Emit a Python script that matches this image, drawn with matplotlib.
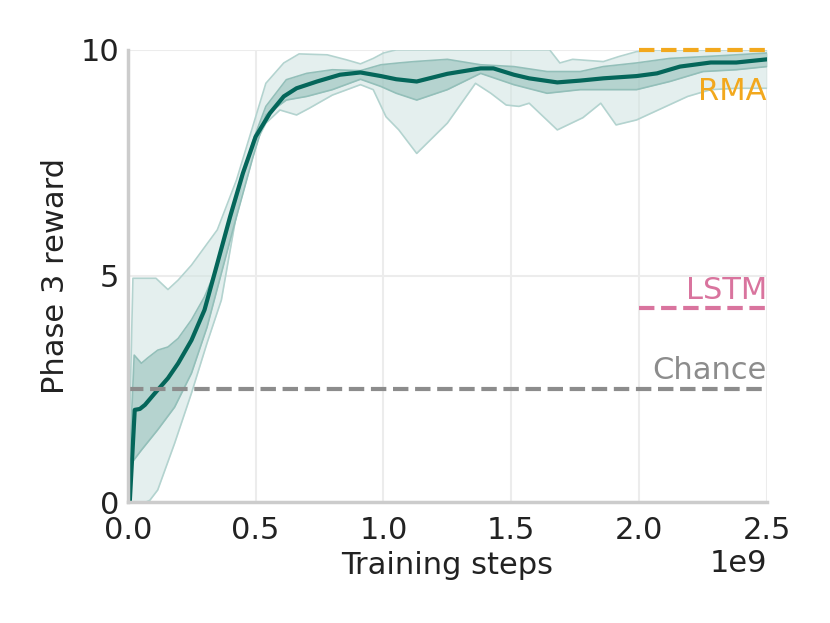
import numpy as np
from matplotlib import pyplot as plt

# Mean curve (x in units of 1e9 steps)
mean_x = [0.0, 0.008, 0.027, 0.047, 0.067, 0.106, 0.157, 0.197, 0.249, 0.30, 0.34,
          0.40, 0.45, 0.50, 0.556, 0.61, 0.66, 0.74, 0.83, 0.91, 0.99, 1.05, 1.13,
          1.25, 1.38, 1.43, 1.51, 1.57, 1.68, 1.77, 1.86, 1.99, 2.07, 2.16, 2.28,
          2.38, 2.5]
mean_y = [0.0, 0.04, 2.04, 2.06, 2.15, 2.41, 2.74, 3.07, 3.58, 4.25, 5.07,
          6.31, 7.27, 8.08, 8.6, 8.97, 9.15, 9.30, 9.45, 9.5, 9.42, 9.35, 9.30,
          9.47, 9.59, 9.59, 9.45, 9.37, 9.28, 9.32, 9.37, 9.42, 9.48, 9.63, 9.72,
          9.72, 9.79]

# Inner band
inner_up_x = [0.0, 0.025, 0.053, 0.078, 0.117, 0.157, 0.197, 0.249, 0.30, 0.35,
              0.49, 0.54, 0.62, 0.70, 0.80, 0.91, 0.99, 1.06, 1.12, 1.25, 1.38,
              1.51, 1.64, 1.77, 1.86, 1.99, 2.12, 2.32, 2.5]
inner_up_y = [0.0, 3.25, 3.07, 3.19, 3.36, 3.43, 3.62, 4.03, 4.54, 5.21,
              8.0, 8.75, 9.34, 9.48, 9.56, 9.54, 9.67, 9.71, 9.74, 9.79, 9.67,
              9.63, 9.52, 9.52, 9.63, 9.71, 9.81, 9.87, 9.93]
inner_lo_x = [0.0, 0.014, 0.053, 0.117, 0.183, 0.249, 0.31, 0.41, 0.49, 0.54, 0.62,
              0.70, 0.80, 0.91, 0.99, 1.05, 1.13, 1.25, 1.38, 1.51, 1.64, 1.77,
              1.86, 1.99, 2.12, 2.25, 2.38, 2.5]
inner_lo_y = [0.0, 0.86, 1.15, 1.6, 2.1, 2.85, 3.87, 6.0, 7.64, 8.56, 8.89,
              8.97, 9.12, 9.35, 9.19, 9.04, 8.89, 9.12, 9.48, 9.23, 9.04, 9.12,
              9.12, 9.12, 9.30, 9.52, 9.56, 9.63]

# Outer band
outer_up_x = [0.0, 0.02, 0.11, 0.157, 0.197, 0.249, 0.35, 0.425, 0.54, 0.61, 0.67,
              0.78, 0.855, 0.91, 0.96, 1.0, 1.05, 1.65, 1.69, 1.74, 1.86, 1.92,
              1.99, 2.05, 2.5]
outer_up_y = [0.0, 4.95, 4.95, 4.7, 4.91, 5.24, 6.02, 7.12, 9.26, 9.71, 9.91,
              9.89, 9.78, 9.69, 9.81, 9.93, 10.0, 10.0, 9.71, 9.79, 9.74, 9.85,
              9.96, 10.0, 10.0]
outer_lo_x = [0.0, 0.07, 0.086, 0.117, 0.183, 0.249, 0.31, 0.366, 0.46, 0.54, 0.595,
              0.66, 0.71, 0.80, 0.91, 0.96, 1.01, 1.06, 1.13, 1.25, 1.36, 1.42,
              1.48, 1.53, 1.57, 1.68, 1.78, 1.85, 1.91, 1.99, 2.09, 2.19, 2.28,
              2.38, 2.5]
outer_lo_y = [0.0, 0.0, 0.04, 0.27, 1.3, 2.41, 3.52, 4.47, 7.49, 8.38, 8.67,
              8.56, 8.71, 9.0, 9.23, 9.12, 8.52, 8.23, 7.71, 8.38, 9.26, 9.04,
              8.78, 8.75, 8.82, 8.23, 8.5, 8.82, 8.34, 8.45, 8.71, 8.97, 9.12,
              9.15, 9.15]

# Baselines
rma_y = 10.0
lstm_y = 4.29
chance_y = 2.5


if __name__ == '__main__':

    scale = 1e9
    teal = '#04665a'
    font = 22

    fig = plt.figure(figsize=(8.3, 6.23), dpi=100)
    ax = fig.add_axes([0.154, 0.194, 0.770, 0.726])

    # Common grid so the bands can be filled
    grid = np.linspace(0, 2.5, 2001)
    o_up = np.interp(grid, outer_up_x, outer_up_y)
    o_lo = np.interp(grid, outer_lo_x, outer_lo_y)
    i_up = np.interp(grid, inner_up_x, inner_up_y)
    i_lo = np.interp(grid, inner_lo_x, inner_lo_y)

    ax.fill_between(grid * scale, o_lo, o_up, color='#cfe3e1', alpha=0.55, lw=0)
    ax.plot(np.array(outer_up_x) * scale, outer_up_y, color='#b3d3cf', lw=1.2)
    ax.plot(np.array(outer_lo_x) * scale, outer_lo_y, color='#b3d3cf', lw=1.2)
    ax.fill_between(grid * scale, i_lo, i_up, color='#8fbdb7', alpha=0.55, lw=0)
    ax.plot(np.array(inner_up_x) * scale, inner_up_y, color='#93bfb9', lw=1.2)
    ax.plot(np.array(inner_lo_x) * scale, inner_lo_y, color='#93bfb9', lw=1.2)
    ax.plot(np.array(mean_x) * scale, mean_y, color=teal, lw=3, solid_joinstyle='round')

    # Reference lines
    ax.plot([2.0 * scale, 2.5 * scale], [rma_y, rma_y], '--', color='#f2a81d', lw=3, clip_on=False)
    ax.plot([2.0 * scale, 2.5 * scale], [lstm_y, lstm_y], '--', color='#d9749e', lw=3)
    ax.plot([0, 2.5 * scale], [chance_y, chance_y], '--', color='#8c8c8c', lw=3)

    ax.text(2.5 * scale, 9.07, 'RMA', color='#f2a81d', fontsize=font, ha='right', va='center')
    ax.text(2.5 * scale, 4.69, 'LSTM', color='#d9749e', fontsize=font, ha='right', va='center')
    ax.text(2.5 * scale, 2.92, 'Chance', color='#8c8c8c', fontsize=font, ha='right', va='center')

    # Configure the axes
    ax.set_xlim([0, 2.5 * scale])
    ax.set_ylim([0, 10])
    ax.set_xticks(np.arange(0, 2.6, 0.5) * scale)
    ax.set_yticks([0, 5, 10])
    ax.grid(True, color='#ececec', lw=1.5)
    ax.set_axisbelow(True)
    for side in ['top', 'right']:
        ax.spines[side].set_visible(False)
    for side in ['left', 'bottom']:
        ax.spines[side].set_color('#cccccc')
        ax.spines[side].set_linewidth(2.5)
    ax.tick_params(length=0, labelsize=font, colors='#222222')
    ax.tick_params(axis='x', pad=10)
    ax.tick_params(axis='y', pad=6)
    ax.xaxis.get_offset_text().set_fontsize(font)
    ax.xaxis.get_offset_text().set_color('#222222')
    ax.set_xlabel('Training steps', fontsize=font, color='#222222', labelpad=4)
    ax.set_ylabel('Phase 3 reward', fontsize=font, color='#222222', labelpad=8)

    fig.savefig('out.png', dpi=100)
